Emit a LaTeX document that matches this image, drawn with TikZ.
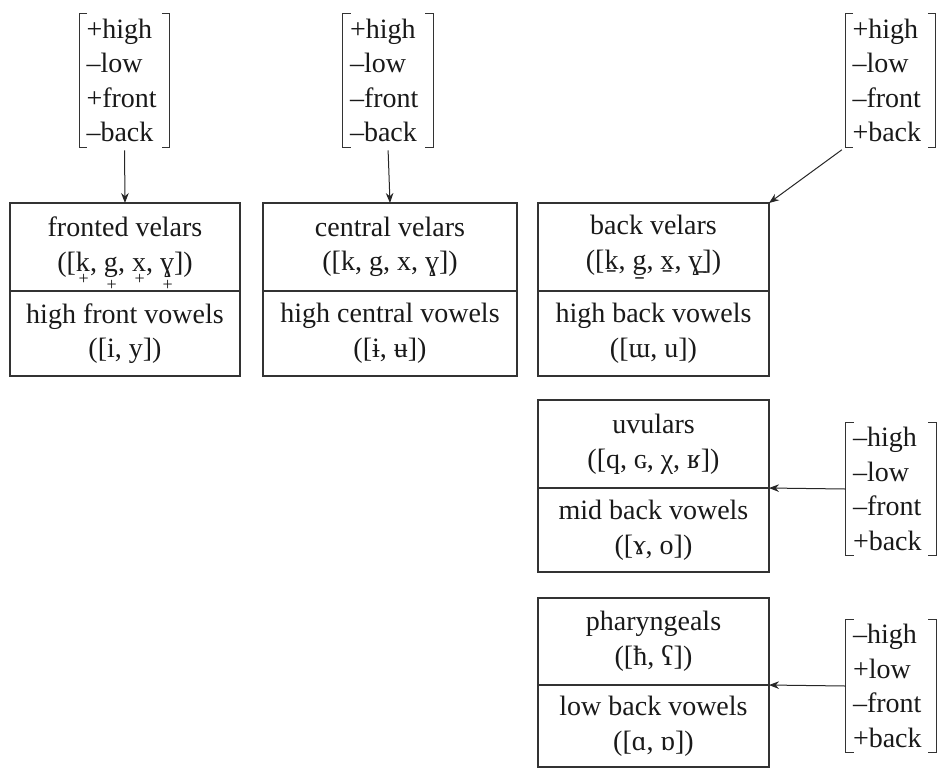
\documentclass[tikz,border=0pt]{standalone}
\usepackage{fontspec}
\setmainfont{Liberation Serif}
\usetikzlibrary{arrows.meta,positioning}
\newcommand{\advd}[1]{\smash{\oalign{#1\crcr\hidewidth\kern0.05em\raisebox{0.9pt}{\fontsize{9pt}{9pt}\selectfont+}\hidewidth}}}

\begin{document}
\begin{tikzpicture}[x=0.5pt,y=-0.5pt,
  every node/.style={font=\fontsize{14pt}{17.3pt}\selectfont, text=black!90},
  cell/.style={draw=black!80, line width=0.6pt, outer sep=0pt, inner sep=0pt, align=center, minimum width=115.5pt},
  feat/.style={align=left, text width=38pt, inner xsep=3.5pt, inner ysep=0pt, minimum height=66.5pt},
  brk/.style={black!80, line width=0.55pt},
  arr/.style={black!85, line width=0.5pt, -{Stealth[length=5pt,width=3.8pt]}}]
\useasboundingbox (0,0) rectangle (938,768);

\node[cell, minimum width=115pt, minimum height=44pt] (fvel) at (125,247) {fronted velars\\([\advd{k}, \advd{g}, \advd{x}, \advd{ɣ}])};
\node[cell, minimum width=115pt, minimum height=42.5pt, below=0pt of fvel] (fvow) {high front vowels\\([i, y])};
\node[cell, minimum width=127pt, minimum height=44pt] (cvel) at (390,247) {central velars\\([k, g, x, ɣ])};
\node[cell, minimum width=127pt, minimum height=42.5pt, below=0pt of cvel] (cvow) {high central vowels\\([ɨ, ʉ])};
\node[cell, minimum height=44pt] (bvel) at (653.5,247) {back velars\\([k̠, g̠, x̠, ɣ̠])};
\node[cell, minimum height=42.5pt, below=0pt of bvel] (bvow) {high back vowels\\([ɯ, u])};
\node[cell, minimum height=44pt] (uvul) at (653.5,444) {uvulars\\([q, ɢ, χ, ʁ])};
\node[cell, minimum height=42pt, below=0pt of uvul] (mvow) {mid back vowels\\([ɤ, o])};
\node[cell, minimum height=43.5pt] (phar) at (653.5,641.5) {pharyngeals\\([ħ, ʕ])};
\node[cell, minimum height=41pt, below=0pt of phar] (lvow) {low back vowels\\([ɑ, ɒ])};

\node[feat] (fvf) at (124.5,80.5) {+high\\–low\\+front\\–back};
\node[feat] (cvf) at (388,80.5) {+high\\–low\\–front\\–back};
\node[feat] (bvf) at (890.5,80.5) {+high\\–low\\–front\\+back};
\node[feat] (uvf) at (891,489) {–high\\–low\\–front\\+back};
\node[feat] (phf) at (891,686) {–high\\+low\\–front\\+back};

\foreach \f in {fvf,cvf,bvf,uvf,phf} {
  \draw[brk] ([xshift=4pt]\f.north west) -| (\f.south west) -- ++(4pt,0);
  \draw[brk] ([xshift=-4pt]\f.north east) -| (\f.south east) -- ++(-4pt,0);
}

\draw[arr, shorten <=1.5pt] (fvf.south) -- (fvel.north);
\draw[arr, shorten <=1.5pt] (cvf.south) -- (cvel.north);
\draw[arr, shorten <=2pt] (bvf.south west) -- (bvel.north east);
\draw[arr] (uvf.west) -- (uvul.south east);
\draw[arr] (phf.west) -- (phar.south east);
\end{tikzpicture}
\end{document}
